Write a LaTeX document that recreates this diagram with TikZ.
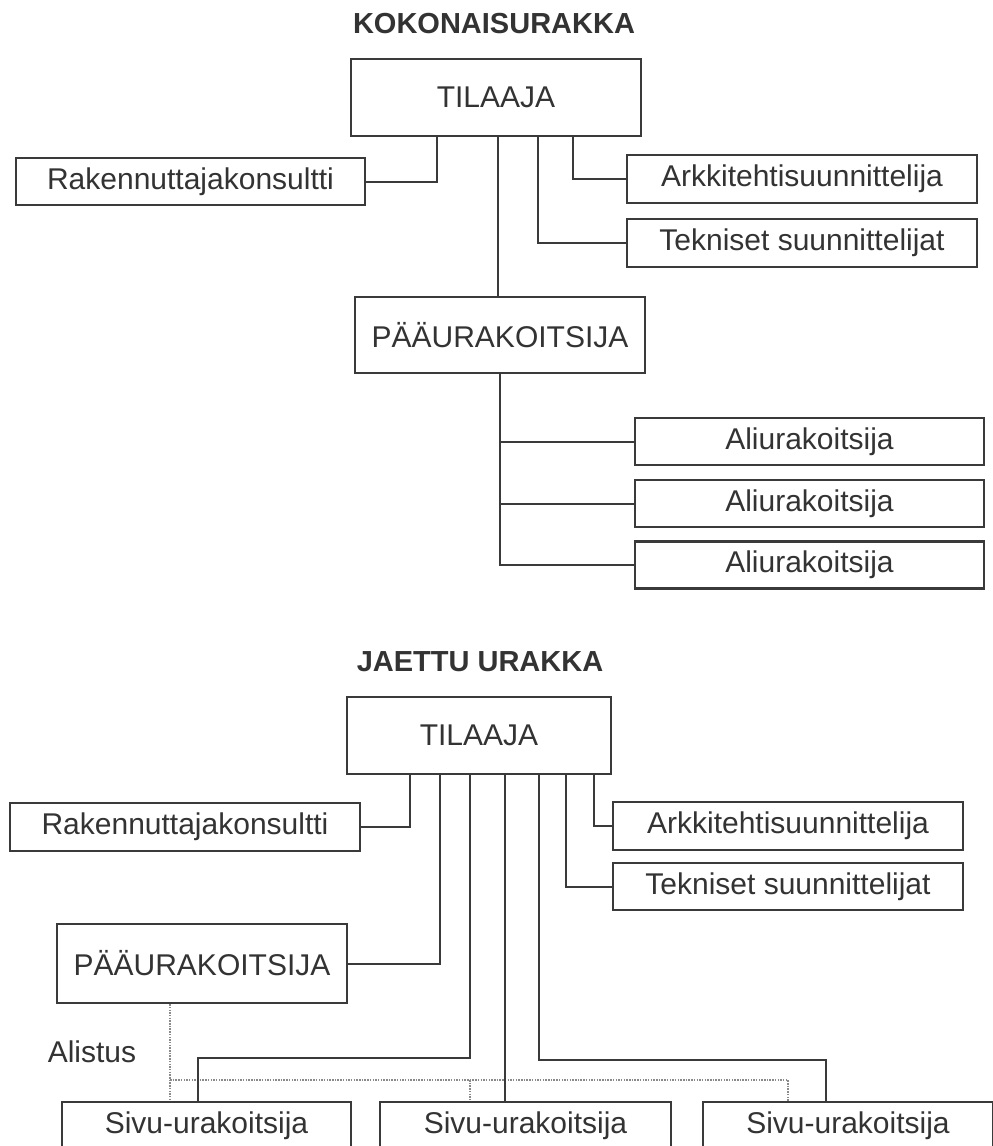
\documentclass[tikz,border=0pt]{standalone}
\usepackage{fontspec}
\setmainfont{Liberation Sans}
\definecolor{linec}{HTML}{3A3A3A}
\definecolor{txtc}{HTML}{333333}
\definecolor{dotc}{HTML}{8A8A8A}
\begin{document}
\begin{tikzpicture}[x=1pt,y=-1pt,
  box/.style={draw=linec, line width=2.2pt, rectangle, inner sep=0pt, text=txtc,
    font=\fontsize{30}{35}\selectfont},
  ttl/.style={text=txtc, inner sep=0pt, font=\fontsize{29}{34}\selectfont\bfseries},
  lbl/.style={text=txtc, inner sep=0pt, font=\fontsize{30}{35}\selectfont},
  conn/.style={draw=linec, line width=2pt},
  dots/.style={draw=dotc, line width=1.3pt, dash pattern=on 1.5pt off 1.2pt}]
\useasboundingbox (0,0) rectangle (993,1146);
\clip (0,0) rectangle (993,1146);
\fill[white] (0,0) rectangle (993,1146);

% ---------- KOKONAISURAKKA ----------
\node[ttl] (title1) at (494,24) {KOKONAISURAKKA};
\node[box, minimum width=290pt, minimum height=77pt] (til1) at (496,97.5) {TILAAJA};
\node[box, minimum width=349pt, minimum height=47pt] (rak1) at (190.5,181.5) {Rakennuttajakonsultti};
\node[box, minimum width=350pt, minimum height=48pt] (ark1) at (802,179) {Arkkitehtisuunnittelija};
\node[box, minimum width=350pt, minimum height=48pt] (tek1) at (802,243) {Tekniset suunnittelijat};
\node[box, minimum width=290pt, minimum height=76pt] (paa1) at (500,335) {PÄÄURAKOITSIJA};
\node[box, minimum width=349pt, minimum height=47pt] (ali1) at (809.5,441.5) {Aliurakoitsija};
\node[box, minimum width=349pt, minimum height=47pt] (ali2) at (809.5,503.5) {Aliurakoitsija};
\node[box, minimum width=349pt, minimum height=47pt] (ali3) at (809.5,565) {Aliurakoitsija};

\draw[conn] (til1.south -| 437,0) |- (rak1.east);
\draw[conn] (til1.south -| 498,0) -- (paa1.north -| 498,0);
\draw[conn] (til1.south -| 538,0) |- (tek1.west);
\draw[conn] (til1.south -| 573,0) |- (ark1.west);
\draw[conn] (paa1.south) |- (ali3.west);
\draw[conn] (ali1.west) -- (ali1.west -| paa1.south);
\draw[conn] (ali2.west) -- (ali2.west -| paa1.south);

% ---------- JAETTU URAKKA ----------
\node[ttl] (title2) at (480,662) {JAETTU URAKKA};
\node[box, minimum width=264pt, minimum height=77pt] (til2) at (479,735.5) {TILAAJA};
\node[box, minimum width=350pt, minimum height=48pt] (rak2) at (185,827) {Rakennuttajakonsultti};
\node[box, minimum width=350pt, minimum height=48pt] (ark2) at (788,826) {Arkkitehtisuunnittelija};
\node[box, minimum width=350pt, minimum height=47pt] (tek2) at (788,886.5) {Tekniset suunnittelijat};
\node[box, minimum width=290pt, minimum height=79pt] (paa2) at (202,963.5) {PÄÄURAKOITSIJA};
\node[box, minimum width=289pt, minimum height=48pt] (siv1) at (206.5,1126) {Sivu-urakoitsija};
\node[box, minimum width=291pt, minimum height=48pt] (siv2) at (525.5,1126) {Sivu-urakoitsija};
\node[box, minimum width=290pt, minimum height=48pt] (siv3) at (848,1126) {Sivu-urakoitsija};
\node[lbl] (alistus) at (92,1052) {Alistus};

\coordinate (j1) at (470,1058);
\coordinate (j2) at (539,1060);
\coordinate (d1) at (170,1080);
\coordinate (d2) at (788,1080);

\draw[dots] (paa2.south -| d1) -- (siv1.north -| d1);
\draw[dots] (d1) -- (d2) -- (siv3.north -| d2);
\draw[dots] (470,1080) -- (siv2.north -| 470,0);

\draw[conn] (til2.south -| 410,0) |- (rak2.east);
\draw[conn] (til2.south -| 440,0) |- (paa2.east);
\draw[conn] (til2.south -| j1) -- (j1) -| (siv1.north -| 198,0);
\draw[conn] (til2.south -| 505,0) -- (siv2.north -| 505,0);
\draw[conn] (til2.south -| j2) -- (j2) -| (siv3.north -| 826,0);
\draw[conn] (til2.south -| 566,0) |- (tek2.west);
\draw[conn] (til2.south -| 594,0) |- (ark2.west);
\end{tikzpicture}
\end{document}
